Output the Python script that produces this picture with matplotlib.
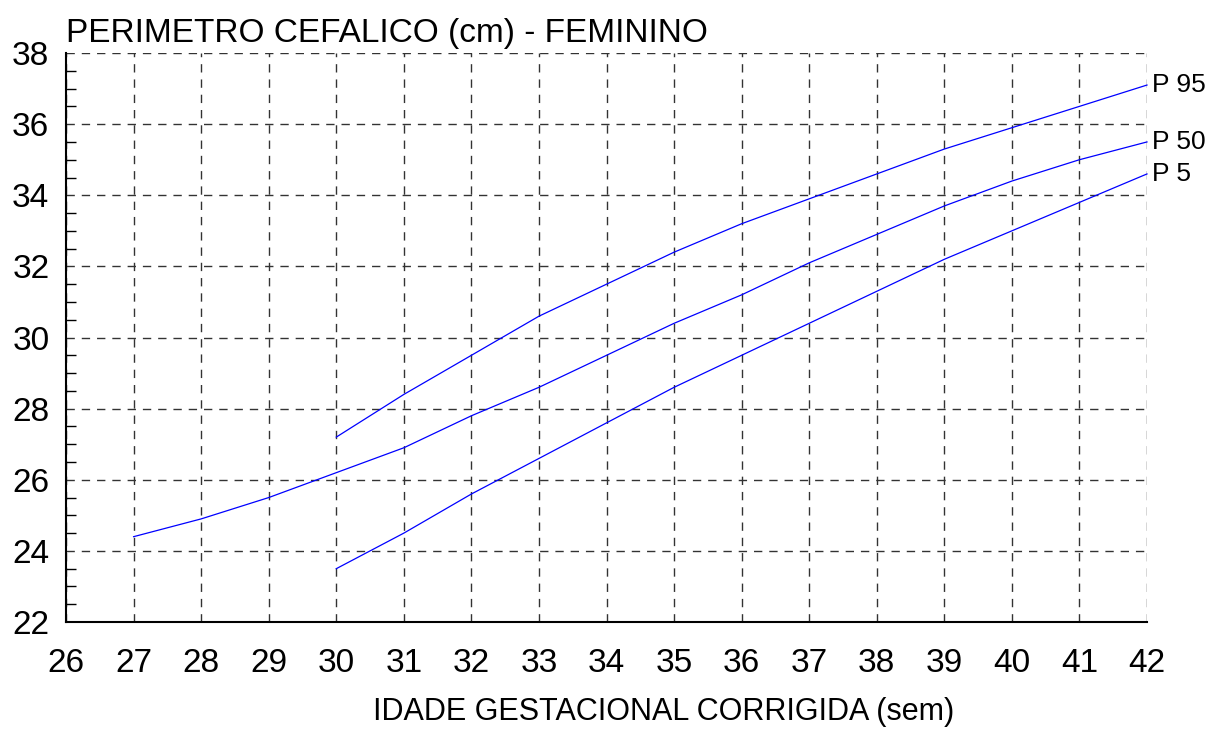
import matplotlib
matplotlib.use("Agg")
import matplotlib.pyplot as plt
from matplotlib.ticker import MultipleLocator

plt.rcParams['font.family'] = ['Liberation Sans', 'DejaVu Sans']

# semanas
weeks_p95 = [30, 31, 32, 33, 34, 35, 36, 37, 38, 39, 40, 41, 42]
p95 = [27.2, 28.4, 29.5, 30.6, 31.5, 32.4, 33.2, 33.9, 34.6, 35.3, 35.9, 36.5, 37.1]

weeks_p50 = [27, 28, 29, 30, 31, 32, 33, 34, 35, 36, 37, 38, 39, 40, 41, 42]
p50 = [24.4, 24.9, 25.5, 26.2, 26.9, 27.8, 28.6, 29.5, 30.4, 31.2, 32.1, 32.9, 33.7, 34.4, 35.0, 35.5]

weeks_p5 = [30, 31, 32, 33, 34, 35, 36, 37, 38, 39, 40, 41, 42]
p5 = [23.5, 24.5, 25.6, 26.6, 27.6, 28.6, 29.5, 30.4, 31.3, 32.2, 33.0, 33.8, 34.6]

labels = ['P 95', 'P 50', 'P 5']

fig = plt.figure(figsize=(12.14, 7.47), dpi=100)
ax = fig.add_axes([0.0544, 0.1673, 0.8904, 0.7617])

for w, v, lab in zip([weeks_p95, weeks_p50, weeks_p5], [p95, p50, p5], labels):
    ax.plot(w, v, color='#0000ff', lw=0.9, clip_on=False)
    ax.text(w[-1] + 0.08, v[-1], lab, fontsize=19, va='center', ha='left')

ax.set_xlim(26, 42)
ax.set_ylim(22, 38)
ax.xaxis.set_major_locator(MultipleLocator(1))
ax.yaxis.set_major_locator(MultipleLocator(2))
ax.yaxis.set_minor_locator(MultipleLocator(0.5))

ax.grid(True, which='major', color='#333333', linestyle=(0, (6, 5)), lw=1)
ax.tick_params(axis='x', length=0, labelsize=24, pad=19)
ax.tick_params(axis='y', which='major', length=0, labelsize=24, pad=12)
ax.tick_params(axis='y', which='minor', length=7, direction='in', width=1)

for s in ['top', 'right']:
    ax.spines[s].set_visible(False)
ax.spines['left'].set_linewidth(1.5)
ax.spines['bottom'].set_linewidth(1.5)

ax.set_title('PERIMETRO CEFALICO (cm) - FEMININO', loc='left', fontsize=24, pad=8, x=0.0)
fig.text(0.547, 0.047, 'IDADE GESTACIONAL CORRIGIDA (sem)', fontsize=22,
         ha='center', va='center')

fig.savefig('out.png', dpi=100)
